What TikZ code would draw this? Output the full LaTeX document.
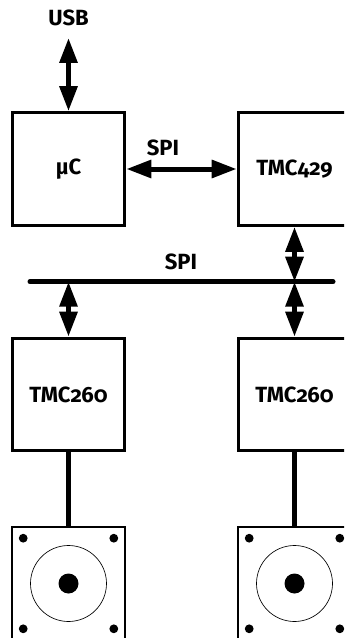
\documentclass[tikz,border=0pt]{standalone}
\usepackage{fontspec}
\setmainfont[Numbers=OldStyle]{Fira Sans}
\usetikzlibrary{arrows.meta}
\tikzset{
  chip/.style={draw, line width=2.25pt, minimum width=84.5pt, minimum height=84.5pt, inner sep=0pt, font=\bfseries\fontsize{16.5}{18}\selectfont},
  motor/.style={draw, line width=0.9pt, minimum width=84.75pt, minimum height=84.75pt, inner sep=0pt},
  label/.style={inner sep=0pt, font=\bfseries\fontsize{16.5}{18}\selectfont},
  link/.style={line width=3.75pt, {Triangle[length=18.75pt,width=13pt]}-{Triangle[length=18.75pt,width=13pt]}},
  wire/.style={line width=3.4pt},
  rotor/.style={circle, draw, line width=0.5pt, minimum size=57pt, inner sep=0pt},
  shaft/.style={circle, fill=black, minimum size=15pt, inner sep=0pt},
  screw/.style={circle, fill=black, minimum size=6.6pt, inner sep=0pt}
}
\begin{document}
\begin{tikzpicture}[x=0.75pt,y=-0.75pt]
\useasboundingbox (0,0) rectangle (344,638);
\clip (0,0) rectangle (344,638);
\node[label] (usb) at (68.5,18) {USB};
\node[chip] (uc) at (68.5,169) {µC};
\node[chip] (tmc429) at (294.5,169) {TMC429};
\node[chip] (drv1) at (68.5,394.5) {TMC260};
\node[chip] (drv2) at (294.5,394.5) {TMC260};
\node[label] (spi1) at (163,148) {SPI};
\node[label] (spi2) at (181,262) {SPI};
% bus
\coordinate (busl) at (30,281.7);
\coordinate (busr) at (333,281.7);
\coordinate (bus1) at (68.5,281.7);
\coordinate (bus2) at (294.5,281.7);
\coordinate (usbend) at (68.5,38);
\draw[line width=3.75pt, line cap=round] (busl) -- (busr);
% motors
\node[motor] (motor1) at (68.5,583.5) {};
\node[motor] (motor2) at (294.5,583.5) {};
\node[rotor] (rotor1) at (motor1.center) {};
\node[rotor] (rotor2) at (motor2.center) {};
\node[shaft] (shaft1) at (motor1.center) {};
\node[shaft] (shaft2) at (motor2.center) {};
\foreach \m in {1,2} {
  \foreach \dx in {-45.3,45.3} {
    \foreach \dy in {-45.3,45.3} {
      \node[screw] at ([xshift=\dx*0.75pt,yshift=\dy*0.75pt]motor\m.center) {};
    }
  }
}
% connectors
\draw[link] (usbend) -- (uc.north);
\draw[link] (uc.east) -- (tmc429.west);
\draw[link] (tmc429.south) -- (bus2);
\draw[link] (bus1) -- (drv1.north);
\draw[link] (bus2) -- (drv2.north);
\draw[wire] (drv1.south) -- (motor1.north);
\draw[wire] (drv2.south) -- (motor2.north);
\end{tikzpicture}
\end{document}
